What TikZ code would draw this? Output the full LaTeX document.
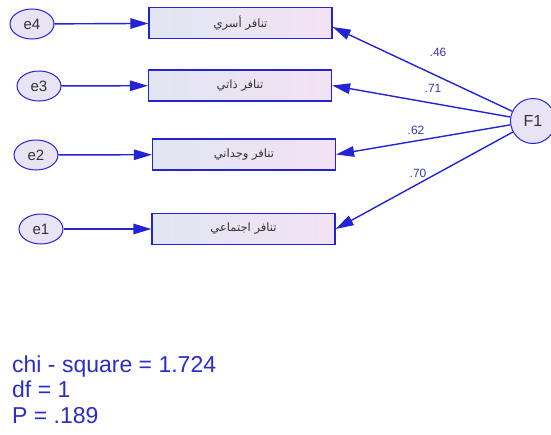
\documentclass[tikz,border=0pt]{standalone}
\usepackage{fontspec}
\setmainfont{Liberation Sans}
\newfontfamily\arabicfont[Script=Arabic]{DejaVu Sans}
\TeXXeTstate=1
\usetikzlibrary{arrows.meta,shapes.geometric}
\definecolor{amosblue}{RGB}{36,36,214}
\definecolor{labblue}{RGB}{56,56,176}
\definecolor{statblue}{RGB}{44,44,200}
\definecolor{ovfill}{RGB}{232,228,244}
\definecolor{boxleft}{RGB}{226,230,242}
\definecolor{boxright}{RGB}{242,226,244}
\definecolor{txtgray}{RGB}{50,50,50}
\tikzset{
  obsbox/.style={rectangle, draw=amosblue, line width=1.2pt,
    left color=boxleft, right color=boxright,
    minimum width=183pt, minimum height=31pt, inner sep=0pt,
    text=txtgray, font=\arabicfont\fontsize{11.5}{13}\selectfont},
  errov/.style={ellipse, draw=amosblue, line width=1pt, fill=ovfill,
    minimum width=44pt, minimum height=30pt, inner sep=0pt,
    text=txtgray, font=\fontsize{15}{17}\selectfont},
  latent/.style={circle, draw=amosblue, line width=1pt, fill=ovfill,
    minimum size=45pt, inner sep=0pt,
    text=txtgray, font=\fontsize{16}{18}\selectfont},
  path/.style={draw=amosblue, line width=1.4pt,
    -{Triangle[length=18pt,width=10.5pt]}},
  coef/.style={text=labblue, font=\fontsize{12}{14}\selectfont, inner sep=0pt},
  stat/.style={text=statblue, font=\fontsize{23}{25}\selectfont, inner sep=0pt, anchor=base west}
}
\begin{document}
\begin{tikzpicture}[x=1pt,y=-1pt]
\useasboundingbox (0,0) rectangle (551,434);
\fill[white] (0,0) rectangle (551,434);

% observed variables
\node[obsbox] (v4) at (240.5,23) {\beginR تنافر أسري\endR};
\node[obsbox] (v3) at (240,85.5) {\beginR تنافر ذاتي\endR};
\node[obsbox] (v2) at (244,154.5) {\beginR تنافر وجداني\endR};
\node[obsbox] (v1) at (243.5,229) {\beginR تنافر اجتماعي\endR};

% error terms
\node[errov] (e4) at (32,24) {e4};
\node[errov] (e3) at (39,86) {e3};
\node[errov] (e2) at (36,155) {e2};
\node[errov] (e1) at (41,229) {e1};

% latent factor
\node[latent] (F1) at (533,121) {F1};

% error paths
\draw[path] (e4) -- (v4);
\draw[path] (e3) -- (v3);
\draw[path] (e2) -- (v2);
\draw[path] (e1) -- (v1);

% loadings
\draw[path] (F1) -- ([yshift=-4pt]v4.east);
\draw[path] (F1) -- (v3.east);
\draw[path] (F1) -- (v2.east);
\draw[path] (F1) -- (v1.east);

\node[coef] (l4) at (438,52) {.46};
\node[coef] (l3) at (433,88) {.71};
\node[coef] (l2) at (416,130) {.62};
\node[coef] (l1) at (418,173) {.70};

% fit statistics
\node[stat] (s1) at (12,372) {chi - square = 1.724};
\node[stat] (s2) at (12,397) {df = 1};
\node[stat] (s3) at (12,423) {P = .189};
\end{tikzpicture}
\end{document}
